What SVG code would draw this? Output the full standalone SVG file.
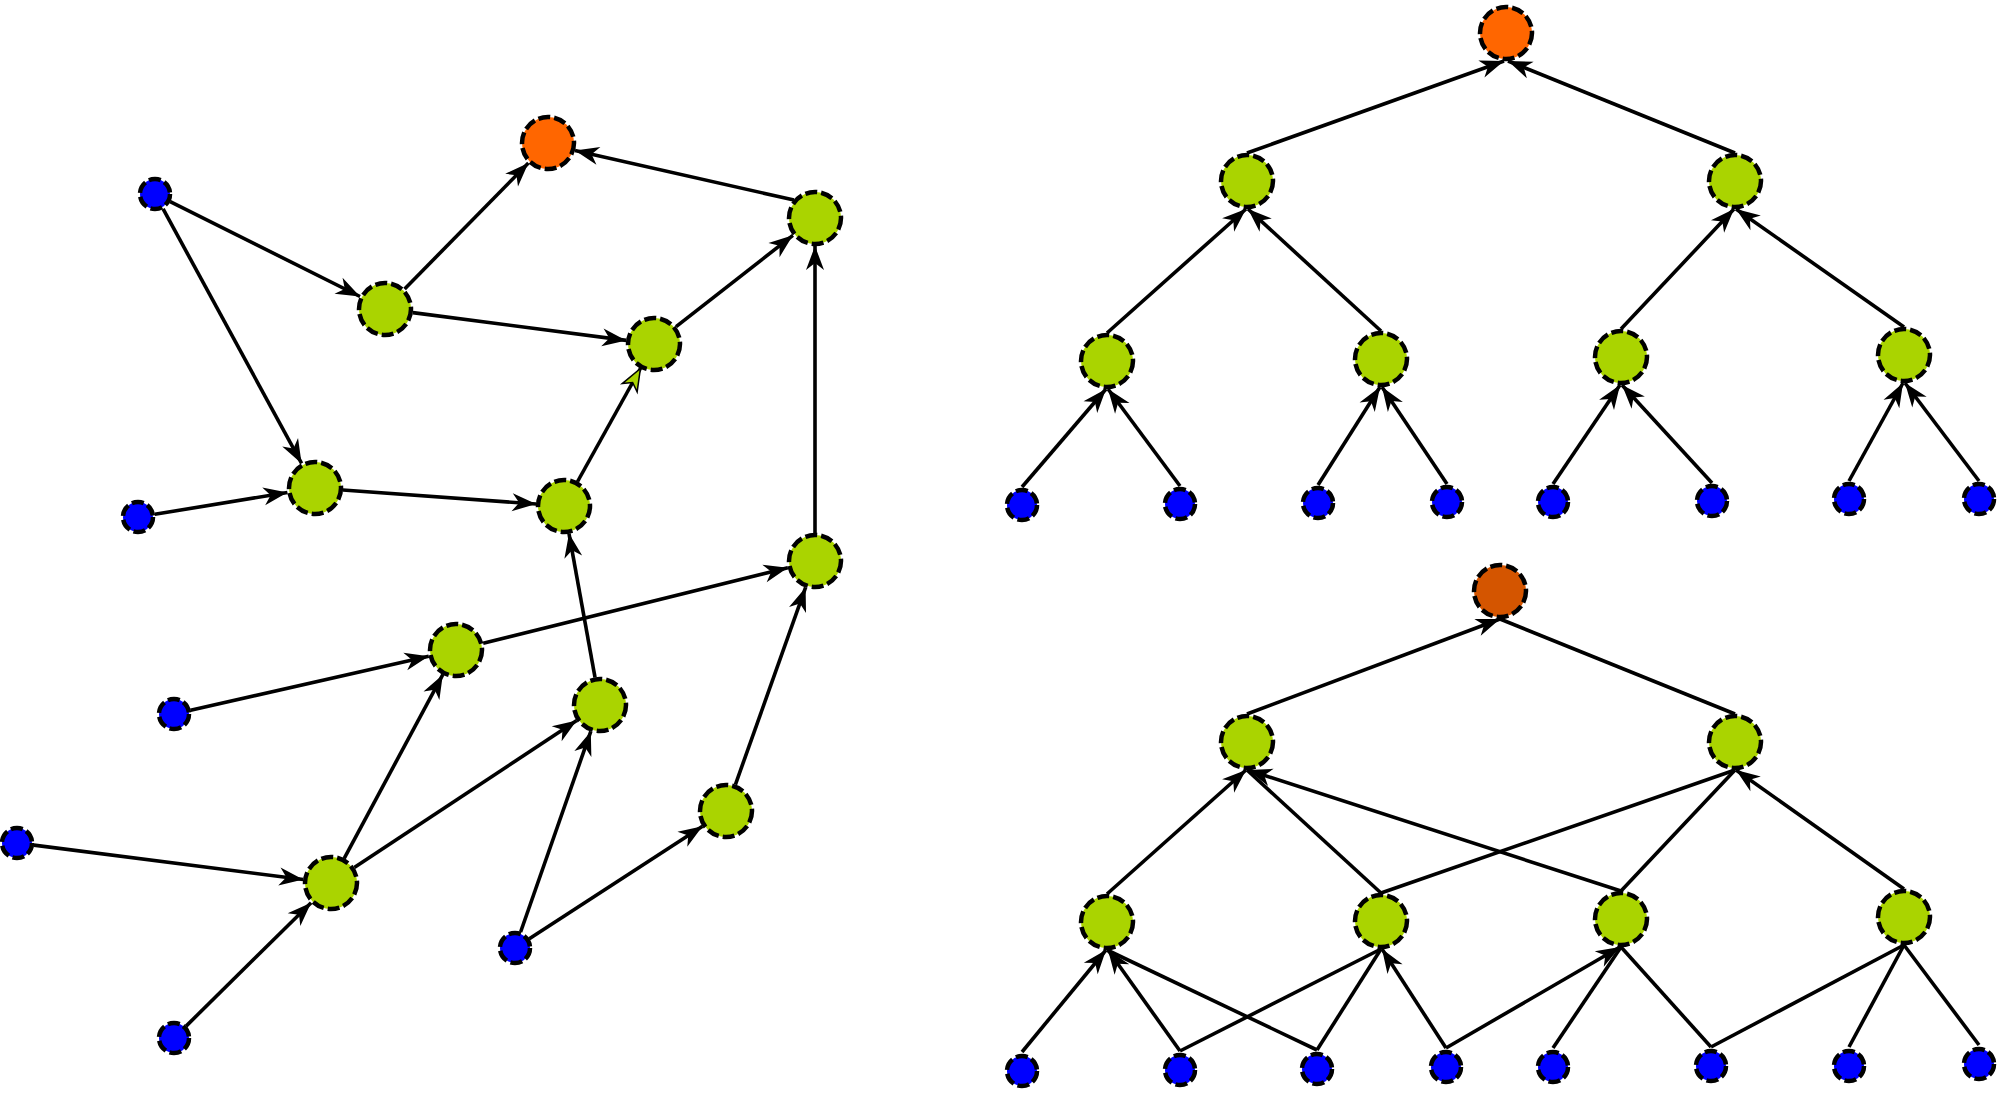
<svg xmlns="http://www.w3.org/2000/svg" width="2000" height="1095" viewBox="0 0 2000 1095">
<style>
.n{stroke:#000;stroke-width:4.5;stroke-dasharray:12 4}
.g{fill:#AAD400}
.b{fill:#0000FF}
.o{fill:#FF6600}
.o2{fill:#D45500}
.e{stroke:#000;stroke-width:3.6;fill:none}
.a{marker-end:url(#ah)}
.ag{marker-end:url(#ahg)}
</style>
<defs>
<marker id="ah" markerUnits="userSpaceOnUse" viewBox="-26 -11 28 22" refX="0" refY="0" markerWidth="28" markerHeight="22" orient="auto">
<path d="M0,0 L-24,-9 L-17,0 L-24,9 Z" fill="#000"/>
</marker>
<marker id="ahg" markerUnits="userSpaceOnUse" viewBox="-26 -11 28 22" refX="0" refY="0" markerWidth="28" markerHeight="22" orient="auto">
<path d="M0,0 L-22,-8.5 L-16,0 L-22,8.5 Z" fill="#AAD400" stroke="#000" stroke-width="1.5"/>
</marker>
</defs>
<rect width="2000" height="1095" fill="#fff"/>
<g id="connectors">
<!-- left graph -->
<line class="e a" x1="170.2" y1="201.6" x2="360.0" y2="296.5"/>
<line class="e a" x1="163.1" y1="208.9" x2="301.6" y2="463.4"/>
<line class="e a" x1="404.6" y1="289.0" x2="528.4" y2="163.0"/>
<line class="e a" x1="412.8" y1="312.6" x2="626.2" y2="340.4"/>
<line class="e a" x1="794.0" y1="200.0" x2="575.0" y2="150.6"/>
<line class="e a" x1="676.1" y1="326.7" x2="792.9" y2="235.3"/>
<line class="e ag" x1="577.6" y1="481.5" x2="640.4" y2="368.5"/>
<line class="e a" x1="154.8" y1="514.3" x2="287.4" y2="492.5"/>
<line class="e a" x1="342.9" y1="490.0" x2="536.1" y2="504.0"/>
<line class="e a" x1="815" y1="533" x2="815" y2="246"/>
<line class="e a" x1="483.2" y1="643.3" x2="787.8" y2="567.7"/>
<line class="e a" x1="190.6" y1="710.2" x2="428.7" y2="656.2"/>
<line class="e a" x1="595.0" y1="677.4" x2="569.0" y2="533.6"/>
<line class="e a" x1="344.2" y1="858.3" x2="442.8" y2="674.7"/>
<line class="e a" x1="354.3" y1="867.5" x2="576.7" y2="720.5"/>
<line class="e a" x1="33.9" y1="845.1" x2="303.2" y2="879.5"/>
<line class="e a" x1="186.1" y1="1026.1" x2="311.1" y2="902.7"/>
<line class="e a" x1="520.6" y1="932.0" x2="590.8" y2="731.4"/>
<line class="e a" x1="529.3" y1="938.7" x2="702.5" y2="826.2"/>
<line class="e a" x1="735.4" y1="784.6" x2="805.6" y2="587.4"/>
<!-- top tree -->
<line class="e a" x1="1247" y1="153" x2="1504" y2="61"/>
<line class="e a" x1="1735" y1="153" x2="1508" y2="61"/>
<line class="e a" x1="1107" y1="333" x2="1246" y2="209"/>
<line class="e a" x1="1381" y1="331" x2="1248" y2="209"/>
<line class="e a" x1="1621" y1="329" x2="1734" y2="209"/>
<line class="e a" x1="1904" y1="327" x2="1736" y2="209"/>
<line class="e a" x1="1022" y1="487" x2="1106" y2="389"/>
<line class="e a" x1="1180" y1="486" x2="1108" y2="389"/>
<line class="e a" x1="1318" y1="485" x2="1380" y2="387"/>
<line class="e a" x1="1447" y1="484" x2="1382" y2="387"/>
<line class="e a" x1="1553" y1="484" x2="1620" y2="385"/>
<line class="e a" x1="1712" y1="483" x2="1622" y2="385"/>
<line class="e a" x1="1849" y1="481" x2="1903" y2="383"/>
<line class="e a" x1="1979" y1="481" x2="1905" y2="383"/>
<!-- bottom tree -->
<line class="e a" x1="1247" y1="714" x2="1500" y2="619"/>
<line class="e" x1="1735" y1="714" x2="1500" y2="619"/>
<line class="e a" x1="1107" y1="894" x2="1246" y2="770"/>
<line class="e" x1="1381" y1="893" x2="1247" y2="770"/>
<line class="e a" x1="1621" y1="891" x2="1248" y2="770"/>
<line class="e" x1="1381" y1="893" x2="1735" y2="770"/>
<line class="e" x1="1621" y1="891" x2="1735" y2="770"/>
<line class="e a" x1="1904" y1="889" x2="1736" y2="770"/>
<line class="e a" x1="1022" y1="1052" x2="1106" y2="950"/>
<line class="e a" x1="1180" y1="1051" x2="1108" y2="950"/>
<line class="e" x1="1317" y1="1050" x2="1107" y2="950"/>
<line class="e" x1="1180" y1="1051" x2="1381" y2="949"/>
<line class="e" x1="1317" y1="1050" x2="1381" y2="949"/>
<line class="e a" x1="1446" y1="1048" x2="1382" y2="949"/>
<line class="e a" x1="1446" y1="1048" x2="1620" y2="947"/>
<line class="e" x1="1553" y1="1048" x2="1621" y2="947"/>
<line class="e" x1="1711" y1="1047" x2="1621" y2="947"/>
<line class="e" x1="1711" y1="1047" x2="1904" y2="945"/>
<line class="e" x1="1849" y1="1047" x2="1904" y2="945"/>
<line class="e" x1="1979" y1="1045" x2="1904" y2="945"/>
</g>
<!-- left graph nodes -->
<g id="A"><circle class="n o" cx="548" cy="143" r="26"/></g>
<g id="b1"><circle class="n b" cx="155" cy="194" r="15"/></g>
<g id="g1"><circle class="n g" cx="385" cy="309" r="26"/></g>
<g id="g2"><circle class="n g" cx="654" cy="344" r="26"/></g>
<g id="g3"><circle class="n g" cx="815" cy="218" r="26"/></g>
<g id="b2"><circle class="n b" cx="138" cy="517" r="15"/></g>
<g id="g4"><circle class="n g" cx="315" cy="488" r="26"/></g>
<g id="g5"><circle class="n g" cx="564" cy="506" r="26"/></g>
<g id="g6"><circle class="n g" cx="815" cy="561" r="26"/></g>
<g id="g7"><circle class="n g" cx="456" cy="650" r="26"/></g>
<g id="b3"><circle class="n b" cx="174" cy="714" r="15"/></g>
<g id="g8"><circle class="n g" cx="600" cy="705" r="26"/></g>
<g id="g9"><circle class="n g" cx="726" cy="811" r="26"/></g>
<g id="b4"><circle class="n b" cx="17" cy="843" r="15"/></g>
<g id="g10"><circle class="n g" cx="331" cy="883" r="26"/></g>
<g id="b5"><circle class="n b" cx="515" cy="948" r="15"/></g>
<g id="b6"><circle class="n b" cx="174" cy="1038" r="15"/></g>
<!-- top tree nodes -->
<g id="R1"><circle class="n o" cx="1506" cy="33" r="26"/></g>
<g id="T1a"><circle class="n g" cx="1247" cy="181" r="26"/></g>
<g id="T1b"><circle class="n g" cx="1735" cy="181" r="26"/></g>
<g id="T2a"><circle class="n g" cx="1107" cy="361" r="26"/></g>
<g id="T2b"><circle class="n g" cx="1381" cy="359" r="26"/></g>
<g id="T2c"><circle class="n g" cx="1621" cy="357" r="26"/></g>
<g id="T2d"><circle class="n g" cx="1904" cy="355" r="26"/></g>
<g id="T3a"><circle class="n b" cx="1022" cy="505" r="15"/></g>
<g id="T3b"><circle class="n b" cx="1180" cy="504" r="15"/></g>
<g id="T3c"><circle class="n b" cx="1318" cy="503" r="15"/></g>
<g id="T3d"><circle class="n b" cx="1447" cy="502" r="15"/></g>
<g id="T3e"><circle class="n b" cx="1553" cy="502" r="15"/></g>
<g id="T3f"><circle class="n b" cx="1712" cy="501" r="15"/></g>
<g id="T3g"><circle class="n b" cx="1849" cy="499" r="15"/></g>
<g id="T3h"><circle class="n b" cx="1979" cy="499" r="15"/></g>
<!-- bottom tree nodes -->
<g id="R2"><circle class="n o2" cx="1500" cy="591" r="26"/></g>
<g id="B1a"><circle class="n g" cx="1247" cy="742" r="26"/></g>
<g id="B1b"><circle class="n g" cx="1735" cy="742" r="26"/></g>
<g id="B2a"><circle class="n g" cx="1107" cy="922" r="26"/></g>
<g id="B2b"><circle class="n g" cx="1381" cy="921" r="26"/></g>
<g id="B2c"><circle class="n g" cx="1621" cy="919" r="26"/></g>
<g id="B2d"><circle class="n g" cx="1904" cy="917" r="26"/></g>
<g id="B3a"><circle class="n b" cx="1022" cy="1071" r="15"/></g>
<g id="B3b"><circle class="n b" cx="1180" cy="1070" r="15"/></g>
<g id="B3c"><circle class="n b" cx="1317" cy="1069" r="15"/></g>
<g id="B3d"><circle class="n b" cx="1446" cy="1067" r="15"/></g>
<g id="B3e"><circle class="n b" cx="1553" cy="1067" r="15"/></g>
<g id="B3f"><circle class="n b" cx="1711" cy="1066" r="15"/></g>
<g id="B3g"><circle class="n b" cx="1849" cy="1066" r="15"/></g>
<g id="B3h"><circle class="n b" cx="1979" cy="1064" r="15"/></g>
</svg>
